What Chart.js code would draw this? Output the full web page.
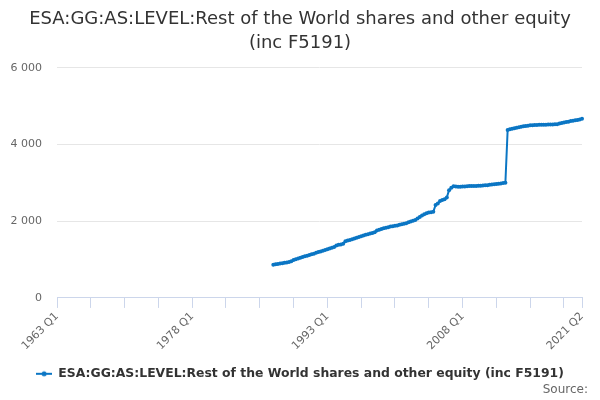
<!DOCTYPE html>
<html>
<head>
<meta charset="utf-8">
<script src="https://cdn.jsdelivr.net/npm/chart.js@4/dist/chart.umd.min.js"></script>
<style>
    html, body { margin: 0; padding: 0; background: #fff; }
    #wrap { width: 600px; height: 400px; position: relative; }
    #source {
        position: absolute; right: 12px; top: 382px;
        font: 12px 'DejaVu Sans', sans-serif; color: #666666;
    }
</style>
</head>
<body>
<div id="wrap"><canvas id="myChart"></canvas><div id="source">Source:</div></div>
<script>
// quarters from 1963 Q1 to 2021 Q2
const firstYear = 1963;
const lastLabel = "2021 Q2";
const labelEvery = 60;   // quarters between x labels
const tickEvery = 15;    // quarters between x tick marks

// series begins at 1987 Q1
const seriesStart = "1987 Q1";
const seriesValues = [
    865, 875, 885, 895, 905, 915, 925, 935,
    955, 990, 1010, 1030, 1050, 1065, 1085, 1100,
    1120, 1140, 1155, 1175, 1195, 1210, 1230, 1250,
    1270, 1290, 1310, 1330, 1370, 1385, 1395, 1410,
    1480, 1500, 1510, 1530, 1550, 1570, 1590, 1610,
    1625, 1645, 1660, 1680, 1695, 1710, 1760, 1780,
    1800, 1815, 1830, 1845, 1860, 1870, 1880, 1890,
    1910, 1920, 1935, 1950, 1970, 1990, 2010, 2030,
    2070, 2110, 2150, 2180, 2210, 2230, 2235, 2245,
    2420, 2460, 2530, 2550, 2570, 2620, 2810, 2870,
    2910, 2905, 2900, 2900, 2905, 2905, 2910, 2915,
    2915, 2920, 2920, 2925, 2925, 2930, 2935, 2940,
    2950, 2960, 2965, 2970, 2975, 2985, 2995, 3005,
    4380, 4400, 4410, 4425, 4440, 4450, 4460, 4475,
    4485, 4490, 4500, 4505, 4510, 4510, 4515, 4515,
    4515, 4515, 4520, 4520, 4520, 4525, 4530, 4545,
    4560, 4575, 4585, 4595, 4610, 4620, 4630, 4640,
    4655, 4670
];

const yTicks = [0, 2000, 4000, 6000];
const seriesName = "ESA:GG:AS:LEVEL:Rest of the World shares and other equity (inc F5191)";
const titleLines = ["ESA:GG:AS:LEVEL:Rest of the World shares and other equity", "(inc F5191)"];
const blue = "#0b76c4";

const labels = [];
for (let y = firstYear; ; y++) {
    let done = false;
    for (let q = 1; q <= 4; q++) {
        const l = y + " Q" + q;
        labels.push(l);
        if (l === lastLabel) { done = true; break; }
    }
    if (done) break;
}
const lastIdx = labels.length - 1;
const startIdx = labels.indexOf(seriesStart);
const values = labels.map((l, i) => (i >= startIdx ? seriesValues[i - startIdx] : null));

// legend symbol: short line with a dot
const sym = document.createElement('canvas');
sym.width = 16; sym.height = 8;
(function () {
    const c = sym.getContext('2d');
    c.strokeStyle = blue; c.lineWidth = 2;
    c.beginPath(); c.moveTo(0, 4); c.lineTo(16, 4); c.stroke();
    c.fillStyle = blue;
    c.beginPath(); c.arc(8, 4, 2.5, 0, Math.PI * 2); c.fill();
})();

Chart.defaults.font.family = "'DejaVu Sans', sans-serif";
Chart.defaults.color = '#666666';

const ctx = document.getElementById('myChart').getContext('2d');
const chart = new Chart(ctx, {
    type: 'line',
    data: {
        labels: labels,
        datasets: [{
            label: seriesName,
            data: values,
            borderColor: blue,
            backgroundColor: blue,
            borderWidth: 2,
            pointRadius: 2,
            pointBorderWidth: 0,
            pointBackgroundColor: blue,
            tension: 0,
            spanGaps: false
        }]
    },
    options: {
        responsive: true,
        maintainAspectRatio: false,
        animation: false,
        layout: { padding: { left: 0, right: 0, top: 8, bottom: 10 } },
        plugins: {
            title: {
                display: true,
                text: titleLines,
                color: '#333333',
                font: { size: 18, weight: 'normal', lineHeight: 1.3 },
                padding: { top: 0, bottom: 13 }
            },
            legend: {
                position: 'bottom',
                labels: {
                    usePointStyle: true,
                    pointStyle: sym,
                    pointStyleWidth: 16,
                    color: '#333333',
                    font: { size: 12.4, weight: 'bold' },
                    padding: 6
                }
            },
            tooltip: { enabled: false }
        },
        scales: {
            x: {
                type: 'category',
                offset: false,
                afterFit: (s) => { s.paddingRight = 18; s.height += 7; },
                border: { color: '#ccd6eb' },
                grid: {
                    drawOnChartArea: false,
                    tickLength: 10,
                    tickColor: (c) => (c.index % tickEvery === 0 || c.index === lastIdx) ? '#ccd6eb' : 'rgba(0,0,0,0)'
                },
                ticks: {
                    autoSkip: false,
                    maxRotation: 45,
                    minRotation: 45,
                    font: { size: 11 },
                    color: '#666666',
                    padding: 2,
                    callback: function (v, i) {
                        return (i % labelEvery === 0 || i === lastIdx) ? labels[i] : '';
                    }
                }
            },
            y: {
                min: 0,
                max: 6000,
                afterBuildTicks: (s) => { s.ticks = yTicks.map(v => ({ value: v })); },
                afterFit: (s) => { s.width = 57; },
                border: { display: false },
                grid: { color: '#e6e6e6', drawTicks: false },
                ticks: {
                    font: { size: 11 },
                    color: '#666666',
                    padding: 15,
                    callback: (v) => String(v).replace(/\B(?=(\d{3})+(?!\d))/g, ' ')
                }
            }
        }
    }
});
</script>
</body>
</html>
